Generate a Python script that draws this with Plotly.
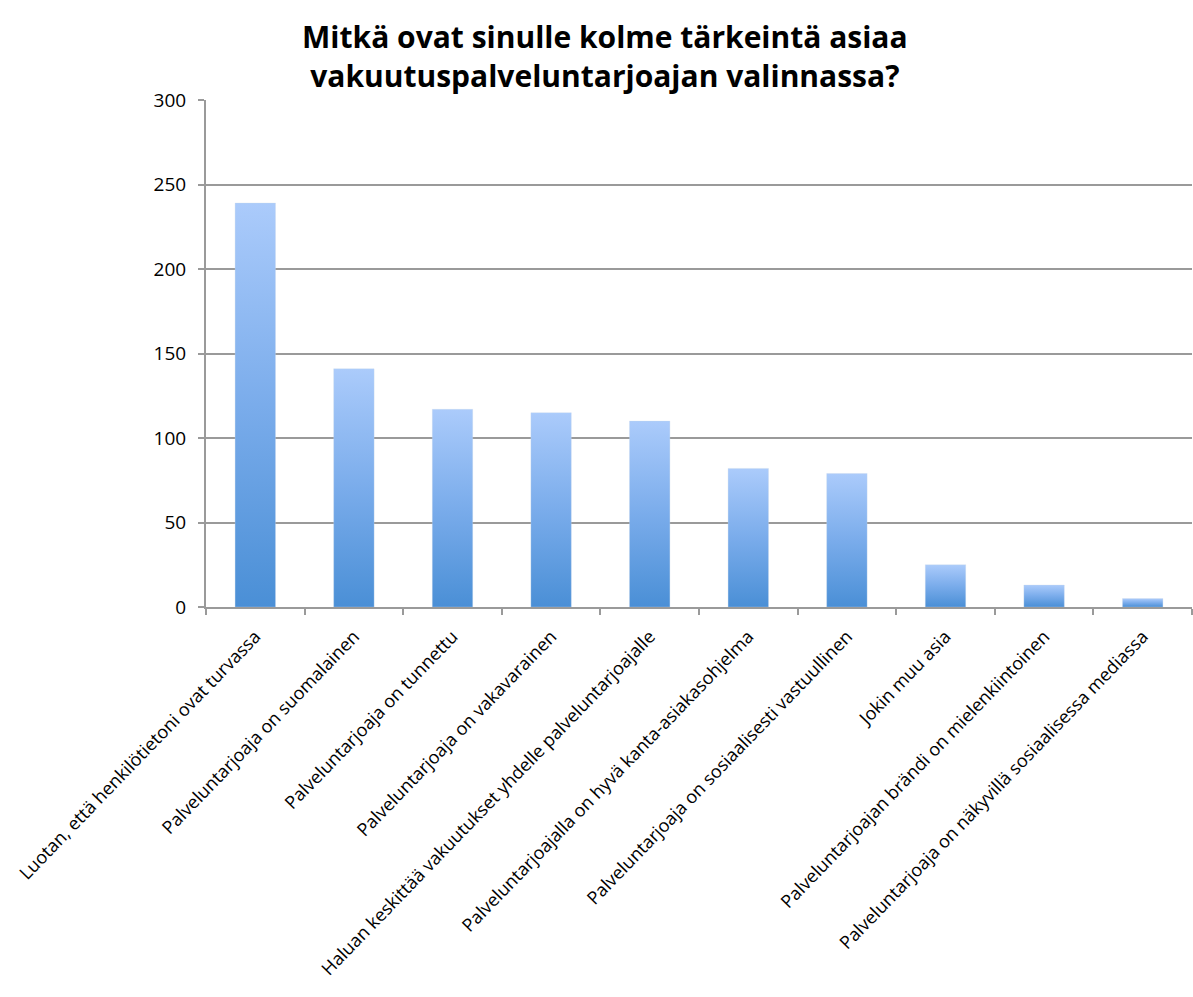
import plotly.graph_objects as go

categories = [
    "Luotan, että henkilötietoni ovat turvassa",
    "Palveluntarjoaja on suomalainen",
    "Palveluntarjoaja on tunnettu",
    "Palveluntarjoaja on vakavarainen",
    "Haluan keskittää vakuutukset yhdelle palveluntarjoajalle",
    "Palveluntarjoajalla on hyvä kanta-asiakasohjelma",
    "Palveluntarjoaja on sosiaalisesti vastuullinen",
    "Jokin muu asia",
    "Palveluntarjoajan brändi on mielenkiintoinen",
    "Palveluntarjoaja on näkyvillä sosiaalisessa mediassa",
]
values = [239, 141, 117, 115, 110, 82, 79, 25, 13, 5]
y_ticks = [0, 50, 100, 150, 200, 250, 300]

title_text = "Mitkä ovat sinulle kolme tärkeintä asiaa<br>vakuutuspalveluntarjoajan valinnassa?"

BAR_W = 0.41
GRID = "#9a9a9a"
positions = list(range(len(categories)))

fig = go.Figure()
for i, v in zip(positions, values):
    fig.add_trace(go.Scatter(
        x=[i - BAR_W / 2, i + BAR_W / 2, i + BAR_W / 2, i - BAR_W / 2, i - BAR_W / 2],
        y=[0, 0, v, v, 0],
        mode="lines",
        line=dict(width=0.5, color="rgba(200,215,235,0.6)"),
        fill="toself",
        fillgradient=dict(type="vertical",
                          colorscale=[[0, "#4a8fd6"], [0.5, "#7aaceb"], [1, "#abcbfb"]]),
        showlegend=False,
        hoverinfo="skip",
    ))

fig.update_layout(
    width=1193, height=997,
    margin=dict(l=206, r=1, t=100, b=390),
    paper_bgcolor="white", plot_bgcolor="white",
    font=dict(family="Open Sans, Liberation Sans, sans-serif", color="black"),
    title=dict(text=title_text, xref="container", yref="container",
               x=0.507, y=1 - 48 / 997, xanchor="center", yanchor="middle",
               font=dict(size=30, color="black", weight="bold",
                         family="Open Sans, Liberation Sans, sans-serif")),
    showlegend=False,
)
fig.update_xaxes(
    range=[-0.5, len(categories) - 0.5],
    tickmode="array", tickvals=positions, ticktext=categories,
    tickangle=-46, ticks="", tickfont=dict(size=18, color="black"),
    ticklabelstandoff=10,
    showgrid=False, zeroline=False,
    showline=True, linecolor=GRID, linewidth=2,
    minor=dict(ticks="outside", tickmode="array",
               tickvals=[p - 0.5 for p in positions] + [len(categories) - 0.5],
               ticklen=6, tickcolor=GRID, tickwidth=1.5, showgrid=False),
)
fig.update_yaxes(
    range=[0, 300], tickmode="array", tickvals=y_ticks,
    ticks="outside", ticklen=6, tickcolor=GRID, tickwidth=1.5,
    tickfont=dict(size=19, color="black"), ticklabelstandoff=8,
    showgrid=True, gridcolor=GRID, gridwidth=2,
    zeroline=False, showline=True, linecolor=GRID, linewidth=2,
)

fig.write_html("out.html")
